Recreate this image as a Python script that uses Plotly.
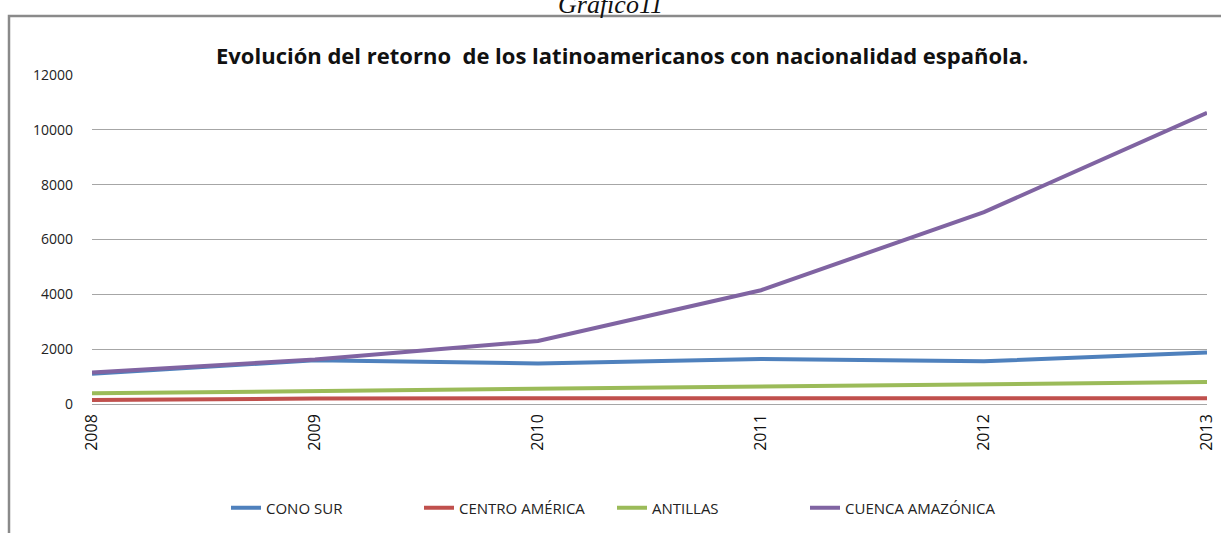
import plotly.graph_objects as go

years = ['2008', '2009', '2010', '2011', '2012', '2013']
cono_sur = [1100, 1600, 1480, 1640, 1560, 1880]
centro_america = [150, 200, 210, 210, 210, 210]
antillas = [390, 470, 560, 650, 720, 800]
cuenca_amazonica = [1150, 1620, 2300, 4150, 7000, 10620]

series = [
    ('CONO SUR', cono_sur, '#4F81BD'),
    ('CENTRO AMÉRICA', centro_america, '#C0504D'),
    ('ANTILLAS', antillas, '#9BBB59'),
    ('CUENCA AMAZÓNICA', cuenca_amazonica, '#8064A2'),
]

fig = go.Figure()
for name, vals, col in series:
    fig.add_trace(go.Scatter(
        x=years, y=vals, name=name, mode='lines',
        line=dict(color=col, width=4),
    ))

W, H = 1221, 533
L, R, T, B = 92, 14, 75, 129
pw, ph = W - L - R, H - T - B

def px(x):
    return (x - L) / pw

def py(y):
    return (H - B - y) / ph

fig.update_layout(
    width=W, height=H,
    margin=dict(l=L, r=R, t=T, b=B, autoexpand=False),
    paper_bgcolor='white', plot_bgcolor='white',
    font=dict(family='Open Sans, Liberation Sans, sans-serif', color='#222'),
    showlegend=True,
    legend=dict(
        orientation='h', x=px(226), xanchor='left', y=py(508), yanchor='middle',
        font=dict(size=15, color='#222'), entrywidth=148, entrywidthmode='pixels',
    ),
    xaxis=dict(
        range=[0, 5], showgrid=False, tickangle=-90, tickfont=dict(size=16, color='#111'),
        ticks='', ticklabelstandoff=6, showline=False, zeroline=False, automargin=False,
    ),
    yaxis=dict(
        range=[0, 12000], dtick=2000, showgrid=True, gridcolor='#a6a6a6', gridwidth=1,
        tickfont=dict(size=14, color='#222'), ticks='', ticklabelstandoff=18,
        showline=False, zeroline=True, zerolinecolor='#a6a6a6', zerolinewidth=1,
        tickformat='d', automargin=False,
    ),
    annotations=[
        dict(text='<b>Evolución del retorno  de los latinoamericanos con nacionalidad española.</b>',
             xref='paper', yref='paper', x=px(622), y=py(55), xanchor='center', yanchor='middle',
             showarrow=False, font=dict(size=22, color='#111')),
        dict(text='<i>Grafico11</i>', xref='paper', yref='paper', x=px(610), y=py(21),
             xanchor='center', yanchor='bottom', showarrow=False,
             font=dict(family='Liberation Serif, serif', size=26, color='#111')),
    ],
    shapes=[
        dict(type='rect', xref='paper', yref='paper', x0=px(9), x1=px(1235), y0=py(548), y1=py(16),
             line=dict(color='#8a8a8a', width=2.5), layer='below'),
    ],
)

# drop the browser's default 8px body margin so the figure sits at the page origin
fig.write_html("out.html", config={'displayModeBar': False},
               post_script="document.body.style.margin='0';")
